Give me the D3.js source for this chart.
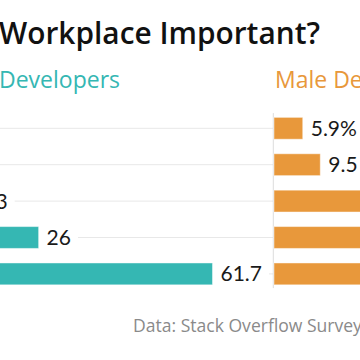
<!DOCTYPE html>
<html>
<head>
<meta charset="utf-8">
<script src="https://cdn.jsdelivr.net/npm/d3@7"></script>
<style>
  html, body { margin: 0; padding: 0; background: #fff; }
  svg { display: block; }
</style>
</head>
<body>
<svg id="chart" width="360" height="360"></svg>
<script>
// ---- data ----
const titleText = "Is Diversity in the Workplace Important?";
const sourceText = "Data: Stack Overflow Survey 2017";
const seriesNames = ["Female Developers", "Male Developers"];
const categories = ["Not at all important", "Not very important", "Somewhat important", "Very important", "Extremely important"];
const femaleValues = [1.2, 2.1, 13, 26, 61.7];
const maleValues = [5.9, 9.5, 22.1, 28.6, 33.9];
const seriesColors = ["#35b7b3", "#e8983b"];

// ---- layout ----
const font = "'Open Sans', sans-serif";
const numFont = "Lato, 'Open Sans', sans-serif";
const panelX = [-88, 274];
const panelEnd = [273, 640];
const svg = d3.select("#chart");

// font size so that a piece of text spans a given width
function fitSize(str, width, weight, fam) {
  const t = svg.append("text").attr("font-family", fam).attr("font-weight", weight)
    .attr("font-size", 100).text(str);
  const w = t.node().getComputedTextLength();
  t.remove();
  return 100 * width / w;
}

const y = d3.scaleBand().domain(categories).range([110.1, 292.1]).paddingInner(0.4).paddingOuter(0.2);
const x = d3.scaleLinear().domain([0, 70]).range([0, 340.9]);

// title
const titleSize = fitSize("Workplace Important?", 321, 600, font);
svg.append("text").attr("x", 320).attr("y", 44).attr("text-anchor", "end")
  .attr("font-family", font).attr("font-weight", 600).attr("font-size", titleSize)
  .attr("fill", "#111").text(titleText);

// legend / panel titles
const legSize = fitSize("Developers", 121, 400, font);
svg.append("text").attr("x", 120).attr("y", 88).attr("text-anchor", "end")
  .attr("font-family", font).attr("font-size", legSize).attr("fill", seriesColors[0]).text(seriesNames[0]);
svg.append("text").attr("x", 275).attr("y", 88).attr("text-anchor", "start")
  .attr("font-family", font).attr("font-size", legSize).attr("fill", seriesColors[1]).text(seriesNames[1]);

const series = [femaleValues, maleValues];
series.forEach((vals, si) => {
  const g = svg.append("g").attr("transform", `translate(${panelX[si]},0)`);
  const data = categories.map((c, i) => ({ c, v: vals[i], i }));
  // axis line
  g.append("line").attr("x1", -0.7).attr("x2", -0.7)
    .attr("y1", y.range()[0] + 3).attr("y2", y.range()[1] - 4)
    .attr("stroke", "#dcdcdc").attr("stroke-width", 1);
  // category labels (left of panel)
  g.selectAll("text.cat").data(data).join("text").attr("class", "cat")
    .attr("x", -10).attr("y", d => y(d.c) + y.bandwidth() / 2).attr("dy", "0.35em")
    .attr("text-anchor", "end").attr("font-family", font).attr("font-size", 14).attr("fill", "#333")
    .text(d => si === 0 ? d.c : "");
  // bars
  g.selectAll("rect.bar").data(data).join("rect").attr("class", "bar")
    .attr("x", 0).attr("y", d => y(d.c)).attr("width", d => x(d.v)).attr("height", y.bandwidth())
    .attr("fill", seriesColors[si]).attr("stroke", "rgba(255,255,255,0.45)").attr("stroke-width", 1);
  // value labels
  const labels = g.selectAll("text.val").data(data).join("text").attr("class", "val")
    .attr("x", d => x(d.v) + 8).attr("y", d => y(d.c) + y.bandwidth() / 2).attr("dy", "0.36em")
    .attr("font-family", numFont).attr("font-size", 21).attr("fill", "#1a1a1a")
    .text(d => d.i === 0 ? d.v + "%" : d.v);
  // grid lines after labels
  labels.each(function (d) {
    const end = x(d.v) + 8 + this.getComputedTextLength() + 7;
    g.insert("line", "rect").attr("x1", end).attr("x2", panelEnd[si] - panelX[si])
      .attr("y1", y(d.c) + y.bandwidth() / 2).attr("y2", y(d.c) + y.bandwidth() / 2)
      .attr("stroke", "#e8e8e8").attr("stroke-width", 1);
  });
});

// source
const srcSize = fitSize("Data: Stack Overflow Survey", 229, 400, font);
svg.append("text").attr("x", 133).attr("y", 331.5)
  .attr("font-family", font).attr("font-size", srcSize).attr("fill", "#8a8a8a").text(sourceText);
</script>
</body>
</html>
